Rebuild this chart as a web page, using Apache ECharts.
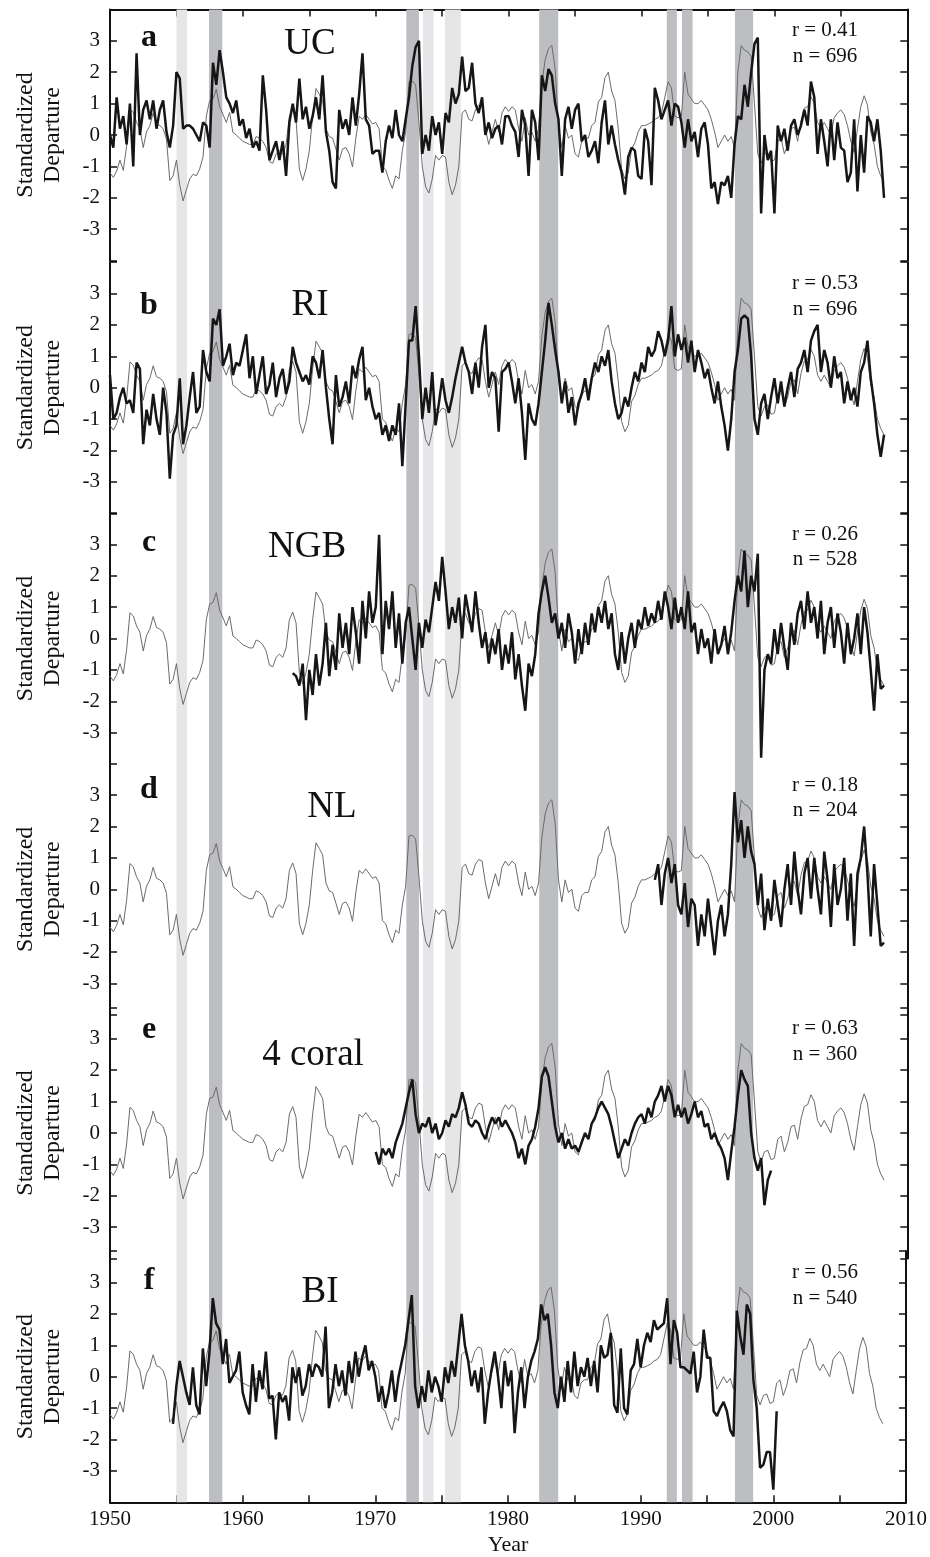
<!DOCTYPE html>
<html><head><meta charset="utf-8">
<script src="https://cdn.jsdelivr.net/npm/echarts@6/dist/echarts.min.js"></script>
<style>html,body{margin:0;padding:0;background:#fff}#c{width:930px;height:1557px}</style>
</head><body><div id="c"></div>
<script>
// ---- DATA (quarterly samples) ----
const ninoStart = 1950.0;
const nino = [
-1.2,-1.35,-1.15,-0.8,-1.13,-0.35,0.82,0.72,0.4,0.2,
-0.4,0.1,0.3,0.7,0.35,0.3,0.2,-0.13,-1.45,-1.3,
-0.8,-1.6,-2.1,-1.75,-1.4,-1.25,-1.3,-1.08,-0.7,0.6,
1.1,1.15,1.46,0.9,0.66,0.4,0.72,0.08,0.0,-0.1,
-0.2,-0.25,-0.3,-0.3,-0.05,-0.1,-0.2,-0.4,-0.85,-0.9,
-0.6,-0.5,-0.6,-0.3,0.6,0.84,0.5,-1.08,-1.45,-1.08,
-0.5,0.6,1.48,1.3,1.1,0.2,-0.05,-0.1,-0.44,-0.8,
-0.45,-0.4,-0.6,-1.02,-0.1,0.6,0.5,0.65,0.5,0.35,
0.4,0.2,-1.0,-1.1,-1.45,-1.7,-1.3,-1.4,-0.5,0.1,
1.7,1.72,1.6,0.4,-1.0,-1.65,-1.85,-1.4,-0.65,-0.8,
-0.65,-0.7,-1.5,-1.9,-1.6,-1.0,0.7,0.8,0.5,0.45,
0.8,0.95,0.9,0.2,-0.3,0.1,0.5,0.1,0.7,0.9,
0.75,0.9,0.8,0.2,-0.2,0.55,0.0,0.1,-0.2,0.2,
1.65,2.4,2.75,2.85,2.1,0.3,-0.4,0.3,-0.1,0.0,
-0.6,-0.7,-0.2,-0.1,-0.1,0.3,0.4,1.05,1.2,1.83,
2.0,1.4,1.1,0.2,-1.08,-1.4,-1.2,-0.44,-0.25,0.1,
0.3,0.3,0.35,0.4,0.5,0.55,0.7,1.2,1.7,1.5,
0.6,0.55,0.6,2.0,1.3,1.15,1.0,1.0,1.1,0.95,
0.8,0.5,0.1,-0.4,-0.2,0.0,-0.2,-0.05,-0.4,2.0,
2.85,2.7,2.65,2.5,1.0,-0.6,-0.9,-0.6,-0.55,-0.85,
-0.8,-0.2,-0.1,-0.6,-0.3,0.2,0.25,-0.2,0.45,0.85,
0.9,1.22,1.0,0.4,0.2,0.4,0.2,0.0,0.55,0.7,
0.8,0.65,0.3,-0.2,-0.55,0.2,0.9,1.25,0.96,0.1,
-0.3,-1.0,-1.3,-1.5
];

const ucStart = 1950.0;
const uc = [
0.0,-0.4,1.2,0.2,0.6,-0.3,1.0,-1.0,2.6,0.0,
0.8,1.1,0.5,1.1,0.2,0.8,1.1,0.1,-0.4,0.3,
2.0,1.8,0.2,0.3,0.3,0.2,0.0,-0.2,0.4,0.3,
-0.4,2.3,1.6,2.7,2.0,1.2,1.0,0.7,1.1,0.3,
0.5,-0.1,0.2,-0.4,-0.2,-0.5,1.9,0.8,-0.8,-0.5,
-0.2,-0.8,-0.2,-1.3,0.4,1.0,0.4,1.8,0.5,0.9,
0.2,0.6,1.2,0.5,1.9,0.1,-0.5,-1.5,-1.7,0.8,
0.2,0.5,0.0,1.2,0.3,1.3,2.6,0.5,0.3,-0.6,
-0.5,-0.5,-1.2,-0.2,0.3,-0.1,0.8,0.0,-0.2,0.5,
1.2,2.2,2.8,3.0,-0.6,0.0,-0.5,0.6,0.0,0.4,
-0.6,0.7,0.4,1.5,1.0,1.3,2.5,1.4,1.5,2.3,
1.0,0.7,1.2,0.0,0.4,-0.1,0.2,0.3,-0.3,0.6,
0.6,0.3,0.1,-0.7,0.8,0.3,-1.3,0.8,0.4,-0.8,
1.9,1.4,2.1,1.9,1.0,0.5,-1.3,0.5,0.9,0.2,
0.8,1.0,-0.2,0.0,-0.7,-0.5,-0.2,-0.9,0.4,1.1,
-0.3,0.3,-0.3,-0.8,-1.2,-1.9,-0.7,-0.4,-0.5,-1.3,
-1.4,0.2,-0.2,-1.6,1.5,1.1,0.5,0.8,1.1,0.3,
1.0,0.9,0.4,-0.4,0.5,-0.2,0.1,-0.7,0.2,0.4,
-0.3,-1.7,-1.5,-2.2,-1.5,-1.6,-1.3,-2.0,-0.3,0.6,
0.5,1.6,0.9,2.0,2.9,3.1,-2.5,0.0,-0.8,-0.5,
-2.5,0.3,-0.2,0.2,-0.5,0.3,0.5,0.0,0.3,0.8,
0.3,1.7,1.2,-0.6,0.5,-0.2,-1.0,0.5,-0.8,0.4,
-0.4,-0.5,-1.5,-1.2,0.5,-1.8,0.0,-1.2,0.6,0.4,
-0.2,0.5,-0.5,-2.0
];

const riStart = 1950.0;
const ri = [
0.4,-1.0,-0.8,-0.3,0.0,-0.5,-0.4,-0.8,0.8,0.6,
-1.8,-0.7,-1.2,-0.2,-1.0,-1.5,0.0,-0.8,-2.9,-1.5,
-1.2,0.3,-1.8,-1.2,-0.3,0.5,-0.8,-0.6,1.2,0.5,
0.2,2.2,2.0,2.5,0.7,1.0,1.4,0.4,0.8,0.7,
1.2,1.7,0.3,1.0,-0.2,0.4,1.0,-0.2,0.1,0.8,
-0.3,0.3,0.6,-0.2,0.2,1.3,0.8,0.5,0.2,0.4,
0.1,1.0,0.8,0.3,1.2,0.0,-1.0,-1.8,0.4,-0.6,
-0.3,0.2,-0.5,0.7,0.3,0.9,1.3,-0.4,0.0,-0.6,
-1.0,-0.8,-1.5,-1.2,-1.7,-1.2,-1.5,-0.5,-2.5,-0.5,
1.5,1.5,2.6,1.0,-1.0,0.0,-0.8,0.5,-1.2,-0.5,
0.3,-0.4,-0.8,-0.3,0.3,0.8,1.3,0.8,0.5,-0.2,
0.8,0.0,1.3,2.0,0.0,0.5,0.3,-1.4,0.5,0.6,
0.8,0.2,-0.5,0.3,-0.8,-2.3,-0.5,-1.0,-1.2,-0.5,
0.5,1.5,2.7,2.0,1.2,0.5,-0.5,0.2,-0.8,-0.3,
-1.2,-0.5,-0.2,0.3,-0.4,0.3,0.8,0.5,1.0,0.7,
1.2,0.2,-0.5,-1.0,-0.8,-0.3,-0.6,0.0,0.5,0.2,
0.8,0.5,1.3,1.0,1.2,1.8,1.5,1.0,1.5,2.6,
1.0,1.7,1.2,1.6,0.8,1.5,0.5,1.2,0.8,0.3,
0.6,0.0,-0.5,0.2,-0.6,-1.2,-2.0,-1.0,0.5,1.2,
2.2,2.3,2.2,1.0,-1.0,-1.5,-0.5,-0.2,-1.0,-0.3,
0.3,-0.5,0.2,-0.6,0.0,0.5,-0.3,0.6,0.8,1.2,
0.5,1.5,1.8,2.0,0.5,1.2,0.8,0.0,1.0,0.3,
0.5,-0.5,0.2,-0.4,0.0,-0.6,0.5,0.8,1.5,0.3,
-0.5,-1.5,-2.2,-1.5
];

const ngbStart = 1963.75;
const ngb = [
-1.1,
-1.2,-1.5,-0.8,-2.6,-1.0,-1.8,-0.5,-1.5,-0.8,0.5,
-1.2,-0.2,-1.0,0.8,-0.3,0.5,-0.5,1.0,0.2,-0.8,
1.2,0.0,1.5,0.5,1.0,3.3,-0.5,1.2,0.3,1.5,
-0.3,0.8,-0.8,0.5,1.0,0.0,-1.0,0.5,-0.3,0.6,
0.2,1.0,1.8,1.2,2.6,1.5,0.3,1.0,0.5,1.3,
0.0,1.4,0.8,0.2,1.5,0.5,-0.3,0.2,-0.8,0.0,
-0.5,0.3,-1.0,-0.2,-0.8,0.2,-1.3,-0.5,-1.5,-2.3,
-0.8,-1.2,-0.5,0.8,1.5,2.0,1.3,0.5,0.8,0.0,
0.5,-0.3,0.8,0.2,-0.8,0.3,-0.5,0.5,-0.2,0.8,
0.2,1.0,0.5,1.2,0.3,0.8,-0.5,-1.0,0.2,-0.8,
0.0,0.5,-0.3,0.6,0.3,1.0,0.4,0.8,0.5,1.2,
0.6,1.5,1.0,0.3,1.3,0.5,1.0,0.3,1.5,0.2,
0.5,-0.5,0.3,-0.3,0.0,-0.8,0.3,-0.5,-0.2,0.4,
-0.5,0.2,1.2,2.0,1.5,2.8,1.0,2.0,1.5,2.7,
-3.8,-1.0,-0.5,-0.8,0.3,-0.5,0.5,-0.3,-1.0,0.5,
-0.2,0.8,1.2,0.3,1.5,0.5,1.0,0.0,1.2,-0.5,
0.5,1.0,-0.3,0.8,0.2,-0.8,0.5,-0.5,0.0,0.8,
-0.5,1.0,0.2,-1.0,-2.3,-0.5,-1.6,-1.5
];

const nlStart = 1991.0;
const nl = [
0.3,0.8,-0.5,0.5,1.0,0.2,0.8,-0.5,-0.8,0.2,
-1.2,-0.3,-0.5,-1.8,-0.8,-1.5,-0.3,-1.2,-2.1,-1.0,
-0.5,-1.5,-0.8,0.8,3.1,1.5,2.2,1.0,2.0,1.2,
0.8,-0.5,0.5,-1.3,-0.3,-1.0,0.3,-0.5,-1.2,0.0,
0.8,-0.5,1.2,0.0,-0.8,0.5,1.0,-0.3,1.0,0.0,
-0.8,1.2,0.3,-1.2,0.8,-0.5,0.0,1.0,-1.0,0.5,
-1.8,0.5,1.0,2.0,0.5,-1.5,0.8,-0.5,-1.8,-1.7
];

const coral4Start = 1970.0;
const coral4 = [
-0.6,-1.0,-0.5,-0.7,-0.5,-0.8,-0.3,0.0,0.3,0.8,
1.3,1.7,0.6,0.0,0.3,0.2,0.5,0.0,0.3,-0.2,
0.0,0.4,0.2,0.6,0.5,0.8,1.3,0.9,0.3,0.2,
0.4,0.3,0.0,-0.2,0.2,0.5,0.3,0.5,0.2,0.4,
0.2,0.0,-0.3,-0.8,-0.5,-1.0,-0.4,-0.2,0.2,0.8,
1.8,2.1,1.8,1.0,0.2,-0.3,0.0,-0.5,-0.2,-0.5,
-0.4,-0.6,-0.3,0.0,-0.2,0.3,0.5,0.8,1.0,0.8,
0.6,0.2,-0.3,-0.8,-0.5,-0.2,-0.4,0.0,0.3,0.5,
0.6,0.3,0.8,0.5,1.0,1.2,1.5,1.0,1.5,1.2,
0.5,0.9,0.5,0.8,0.3,0.6,1.0,0.5,0.7,0.2,
0.3,-0.2,0.0,-0.3,-0.5,-0.8,-1.5,-0.6,0.2,1.2,
2.0,1.7,1.5,0.0,-0.8,-1.2,-0.8,-2.3,-1.5,-1.2
];

const biStart = 1954.75;
const bi = [
-1.5,
-0.3,0.5,0.0,-0.5,-0.9,0.3,-0.9,-1.2,0.9,-0.3,
0.8,2.5,1.7,1.5,0.4,1.2,-0.2,0.0,0.2,0.8,
-0.5,-0.9,-1.2,0.4,-0.8,0.2,-0.4,0.8,-0.7,-0.6,
-2.0,-0.5,-0.8,-0.6,-1.4,0.3,-0.2,0.3,-0.6,-0.3,
0.4,0.0,0.4,0.3,0.0,1.6,-1.0,
-0.5,0.4,-0.3,0.2,-0.6,0.5,-0.2,0.8,0.0,0.6,
1.0,0.2,0.5,0.0,-0.8,-0.3,-1.0,-0.5,0.2,-0.8,
0.0,0.5,1.0,1.8,2.6,-0.3,-1.0,-0.3,-0.8,0.2,
-0.5,0.0,-0.3,-0.8,0.3,-0.2,0.5,0.0,1.0,2.0,
1.0,0.5,-0.3,0.2,-0.5,0.3,-1.5,-0.5,0.2,0.8,
0.0,-1.0,0.5,-0.3,0.2,-1.8,-0.5,0.3,-1.0,0.0,
0.5,0.8,1.2,2.3,1.8,2.0,1.0,-0.5,-1.0,0.0,
-0.8,0.5,-0.5,0.8,-0.3,0.3,0.0,0.6,-0.3,0.5,
-0.5,1.0,0.6,0.7,1.4,-0.9,-1.15,0.9,-1.0,-1.2,
0.2,0.4,1.2,0.3,1.0,1.4,1.1,1.8,1.5,1.6,
1.7,2.5,0.4,1.8,1.4,0.3,0.3,0.2,0.1,0.8,
-0.5,0.0,1.5,0.6,0.6,-1.1,-1.25,-1.0,-0.8,-1.1,
-1.7,-1.9,2.1,1.3,0.7,2.3,2.0,-0.1,-1.0,-2.9,
-2.8,-2.4,-2.4,-3.6,-1.1
];

const panelLetters = ['a','b','c','d','e','f'];
const panelNames = ['UC','RI','NGB','NL','4 coral','BI'];
const rValues = ['0.41','0.53','0.26','0.18','0.63','0.56'];
const nValues = ['696','696','528','204','360','540'];
const xTickLabels = [1950,1960,1970,1980,1990,2000,2010];
const lightBands = [[1955.0,1955.8],[1973.55,1974.35],[1975.2,1976.4]];
const darkBands = [[1957.45,1958.45],[1972.3,1973.25],[1982.3,1983.73],[1991.9,1992.66],[1993.04,1993.84],[1997.03,1998.4]];

// ---- LAYOUT ----
const coralSeries = [[ucStart,uc],[riStart,ri],[ngbStart,ngb],[nlStart,nl],[coral4Start,coral4],[biStart,bi]];
const zeroY = [135, 387.7, 638.5, 889.3, 1133, 1376.7];
const unit = 31.4;
const plotTop = zeroY[0]-4*unit, plotBottom = zeroY[5]+4*unit;
const letterBase = [48.4, 317, 554, 801, 1041, 1292];
const nameX = [310, 310, 307, 332, 313, 320];
const nameBase = [57, 318, 560, 820, 1068, 1305];
const SERIF = '"Liberation Serif","Times New Roman",serif';
const INK = '#111';

function pts(start, arr){ return arr.map((v,k)=>[start + k*0.25, v]); }

const chart = echarts.init(document.getElementById('c'), null, {renderer:'canvas'});
const grid=[], xAxis=[], yAxis=[], series=[], graphic=[];
const bandData = lightBands.map(b=>[{xAxis:b[0], itemStyle:{color:'#e5e6e8'}},{xAxis:b[1]}])
  .concat(darkBands.map(b=>[{xAxis:b[0], itemStyle:{color:'#bdbec1'}},{xAxis:b[1]}]));

for(let p=0;p<6;p++){
  grid.push({left:110, right:22.7, top: zeroY[p]-4*unit, height: 8*unit, containLabel:false});
  xAxis.push({
    type:'value', gridIndex:p, min:1950, max:2010, interval:5,
    position: p===0 ? 'top' : 'bottom',
    show: (p===0 || p===5),
    axisLine:{show:true, onZero:false, lineStyle:{color:INK, width:2}},
    axisTick:{show:true, inside:true, length:7, lineStyle:{color:INK, width:1.5}},
    axisLabel:{show:p===5, formatter:v=> xTickLabels.indexOf(v)>=0 ? String(v) : '',
      fontFamily:SERIF, fontSize:21, color:INK, margin:7},
    splitLine:{show:false}
  });
  yAxis.push({
    type:'value', gridIndex:p, min:-4, max:4, interval:1, position:'left',
    axisLine:{show:true, onZero:false, lineStyle:{color:INK, width:2}},
    axisTick:{show:true, inside:true, length:7, lineStyle:{color:INK, width:1.5}},
    axisLabel:{formatter:v=> (Math.abs(v)===4 ? '' : String(v)), fontFamily:SERIF, fontSize:21, color:INK, margin:10},
    splitLine:{show:false}
  });
  yAxis.push({
    type:'value', gridIndex:p, min:-4, max:4, interval:1, position:'right',
    axisLine:{show:true, onZero:false, lineStyle:{color:INK, width:2}},
    axisTick:{show:true, inside:true, length:7, lineStyle:{color:INK, width:1.5}},
    axisLabel:{show:false}, splitLine:{show:false}
  });
  series.push({
    type:'line', xAxisIndex:p, yAxisIndex:2*p, data:pts(ninoStart, nino), z:2,
    showSymbol:false, silent:true, lineStyle:{color:'#6b6b6b', width:1}, clip:true
  });
  series.push({
    type:'line', xAxisIndex:p, yAxisIndex:2*p, data:pts(coralSeries[p][0], coralSeries[p][1]), z:3,
    showSymbol:false, silent:true, lineStyle:{color:'#161616', width:2.5}, clip:true
  });

  const ts = (t, x, y, font, extra) => Object.assign({type:'text', x, y, silent:true, z:10,
    style:{text:t, font, fill:INK, align:'center', verticalAlign:'middle', textAlign:'center', textVerticalAlign:'middle'}}, extra||{});
  graphic.push(ts(panelLetters[p], 149, letterBase[p]-10.8, 'bold 32px '+SERIF));
  graphic.push(ts(panelNames[p], nameX[p], nameBase[p]-12.5, '37px '+SERIF));
  graphic.push(ts('r = '+rValues[p], 825, zeroY[p]-104.3, '21px '+SERIF));
  graphic.push(ts('n = '+nValues[p], 825, zeroY[p]-78.7, '21px '+SERIF));
  graphic.push(ts('Standardized', 25.5, zeroY[p], '24px '+SERIF, {rotation:Math.PI/2}));
  graphic.push(ts('Departure', 53, zeroY[p], '24px '+SERIF, {rotation:Math.PI/2}));
}
// full-height background grid for the shaded bands
grid.push({left:110, right:22.7, top:plotTop, height:plotBottom-plotTop, containLabel:false});
xAxis.push({type:'value', gridIndex:6, min:1950, max:2010, show:false, splitLine:{show:false}});
yAxis.push({type:'value', gridIndex:6, min:0, max:1, show:false, splitLine:{show:false}});
series.push({type:'line', xAxisIndex:6, yAxisIndex:12, data:[], z:0, silent:true,
  markArea:{silent:true, data:bandData}});

graphic.push({type:'text', x:508, y:1545, silent:true,
  style:{text:'Year', font:'22px '+SERIF, fill:INK, align:'center', verticalAlign:'middle', textAlign:'center', textVerticalAlign:'middle'}});

chart.setOption({animation:false, backgroundColor:'#fff', grid, xAxis, yAxis, series, graphic});
</script></body></html>
